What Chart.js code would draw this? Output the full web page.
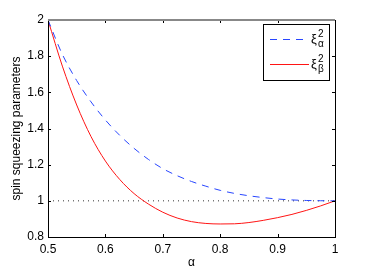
<!DOCTYPE html>
<html lang="en">
<head>
    <meta charset="UTF-8">
    <title>spin squeezing parameters</title>
    <script src="https://cdn.jsdelivr.net/npm/chart.js"></script>
    <style>
        body { margin: 0; background: #fff; }
        canvas { display: block; }
    </style>
</head>
<body>
    <canvas id="chart" width="370" height="271"></canvas>

    <script>
        // values
        const alphas = [0.5, 0.525, 0.55, 0.575, 0.6, 0.625, 0.65, 0.675, 0.7, 0.725, 0.75,
                        0.775, 0.8, 0.825, 0.85, 0.875, 0.9, 0.925, 0.95, 0.975, 1.0];
        const xiAlpha = [2.0, 1.81, 1.665, 1.547, 1.447, 1.362, 1.29, 1.229, 1.178, 1.139, 1.107,
                         1.081, 1.058, 1.041, 1.028, 1.018, 1.01, 1.005, 1.002, 1.0005, 1.0];
        const xiBeta = [2.0, 1.745, 1.53, 1.355, 1.22, 1.118, 1.04, 0.982, 0.937, 0.905, 0.885,
                        0.875, 0.872, 0.873, 0.88, 0.892, 0.907, 0.925, 0.947, 0.972, 1.0];
        const refLevel = [1, 1];
        const refX = [0.5, 1];
        const seriesNames = [['\u03be', '2', '\u03b1'], ['\u03be', '2', '\u03b2']];

        const xTicks = [0.5, 0.6, 0.7, 0.8, 0.9, 1];
        const yTicks = [0.8, 1, 1.2, 1.4, 1.6, 1.8, 2];

        const font = { family: '"Liberation Sans", Arial, sans-serif', size: 12 };

        // box, inward ticks and legend like the matlab figure
        const frame = {
            id: 'frame',
            afterDraw(chart) {
                const { ctx, chartArea: a, scales } = chart;
                ctx.save();
                ctx.strokeStyle = '#000';
                ctx.lineWidth = 1;
                xTicks.forEach(t => {
                    const px = Math.round(scales.x.getPixelForValue(t)) + 0.5;
                    ctx.beginPath();
                    ctx.moveTo(px, a.bottom); ctx.lineTo(px, a.bottom - 3);
                    ctx.moveTo(px, a.top); ctx.lineTo(px, a.top + 3);
                    ctx.stroke();
                });
                yTicks.forEach(t => {
                    const py = Math.round(scales.y.getPixelForValue(t)) + 0.5;
                    ctx.beginPath();
                    ctx.moveTo(a.left, py); ctx.lineTo(a.left + 3, py);
                    ctx.moveTo(a.right, py); ctx.lineTo(a.right - 3, py);
                    ctx.stroke();
                });
                ctx.strokeRect(Math.round(a.left) + 0.5, Math.round(a.top) + 0.5,
                               Math.round(a.right - a.left), Math.round(a.bottom - a.top));
                ctx.strokeStyle = '#888';
                ctx.lineWidth = 2;
                ctx.beginPath();
                ctx.moveTo(a.left, Math.round(a.top)); ctx.lineTo(a.right, Math.round(a.top));
                ctx.stroke();

                // legend
                ctx.fillStyle = '#fff';
                ctx.fillRect(263, 24, 66, 56);
                ctx.strokeStyle = '#000';
                ctx.lineWidth = 1;
                ctx.strokeRect(263.5, 24.5, 66, 56);
                const rows = [39.5, 64.5];
                chart.data.datasets.slice(0, 2).forEach((ds, i) => {
                    const y = rows[i];
                    ctx.strokeStyle = ds.borderColor;
                    ctx.setLineDash(ds.borderDash || []);
                    ctx.beginPath();
                    ctx.moveTo(270, y); ctx.lineTo(309, y);
                    ctx.stroke();
                    ctx.setLineDash([]);
                    const [base, sup, sub] = seriesNames[i];
                    ctx.fillStyle = '#000';
                    ctx.textBaseline = 'alphabetic';
                    ctx.font = '13px "Liberation Sans", Arial, sans-serif';
                    ctx.fillText(base, 311, y + 3);
                    ctx.font = '10px "Liberation Sans", Arial, sans-serif';
                    ctx.fillText(sup, 318, y - 3);
                    ctx.fillText(sub, 318, y + 7);
                });
                ctx.restore();
            }
        };

        new Chart(document.getElementById('chart'), {
            type: 'line',
            data: {
                datasets: [{
                    label: 'xi_alpha^2',
                    data: alphas.map((a, i) => ({ x: a, y: xiAlpha[i] })),
                    borderColor: 'rgb(40, 70, 255)',
                    borderWidth: 1,
                    borderDash: [7, 6],
                    pointRadius: 0,
                    cubicInterpolationMode: 'monotone'
                }, {
                    label: 'xi_beta^2',
                    data: alphas.map((a, i) => ({ x: a, y: xiBeta[i] })),
                    borderColor: 'rgb(255, 20, 20)',
                    borderWidth: 1,
                    pointRadius: 0,
                    cubicInterpolationMode: 'monotone'
                }, {
                    label: 'level 1',
                    data: refX.map((a, i) => ({ x: a, y: refLevel[i] })),
                    borderColor: '#333',
                    borderWidth: 1,
                    borderDash: [1, 4],
                    pointRadius: 0
                }]
            },
            options: {
                responsive: false,
                animation: false,
                devicePixelRatio: 1,
                layout: { padding: { top: 20, right: 35, left: 0, bottom: 0 } },
                plugins: { legend: { display: false }, tooltip: { enabled: false } },
                scales: {
                    x: {
                        type: 'linear',
                        min: 0.5,
                        max: 1,
                        afterBuildTicks: s => { s.ticks = xTicks.map(v => ({ value: v })); },
                        afterFit: s => { s.height = 34; },
                        grid: { display: false, drawTicks: false },
                        border: { display: false },
                        ticks: {
                            padding: 5,
                            color: '#000',
                            font: font,
                            maxRotation: 0,
                            callback: v => String(+v.toFixed(1))
                        },
                        title: { display: true, text: '\u03b1', color: '#000', font: font, padding: { top: 0, bottom: 1 } }
                    },
                    y: {
                        min: 0.8,
                        max: 2,
                        afterBuildTicks: s => { s.ticks = yTicks.map(v => ({ value: v })); },
                        afterFit: s => { s.width = 48; },
                        grid: { display: false, drawTicks: false },
                        border: { display: false },
                        ticks: {
                            padding: 4,
                            color: '#000',
                            font: font,
                            callback: v => String(+v.toFixed(1))
                        },
                        title: { display: true, text: 'spin squeezing parameters', color: '#000', font: font, padding: { top: 9, bottom: 0 } }
                    }
                }
            },
            plugins: [frame]
        });
    </script>
</body>
</html>
